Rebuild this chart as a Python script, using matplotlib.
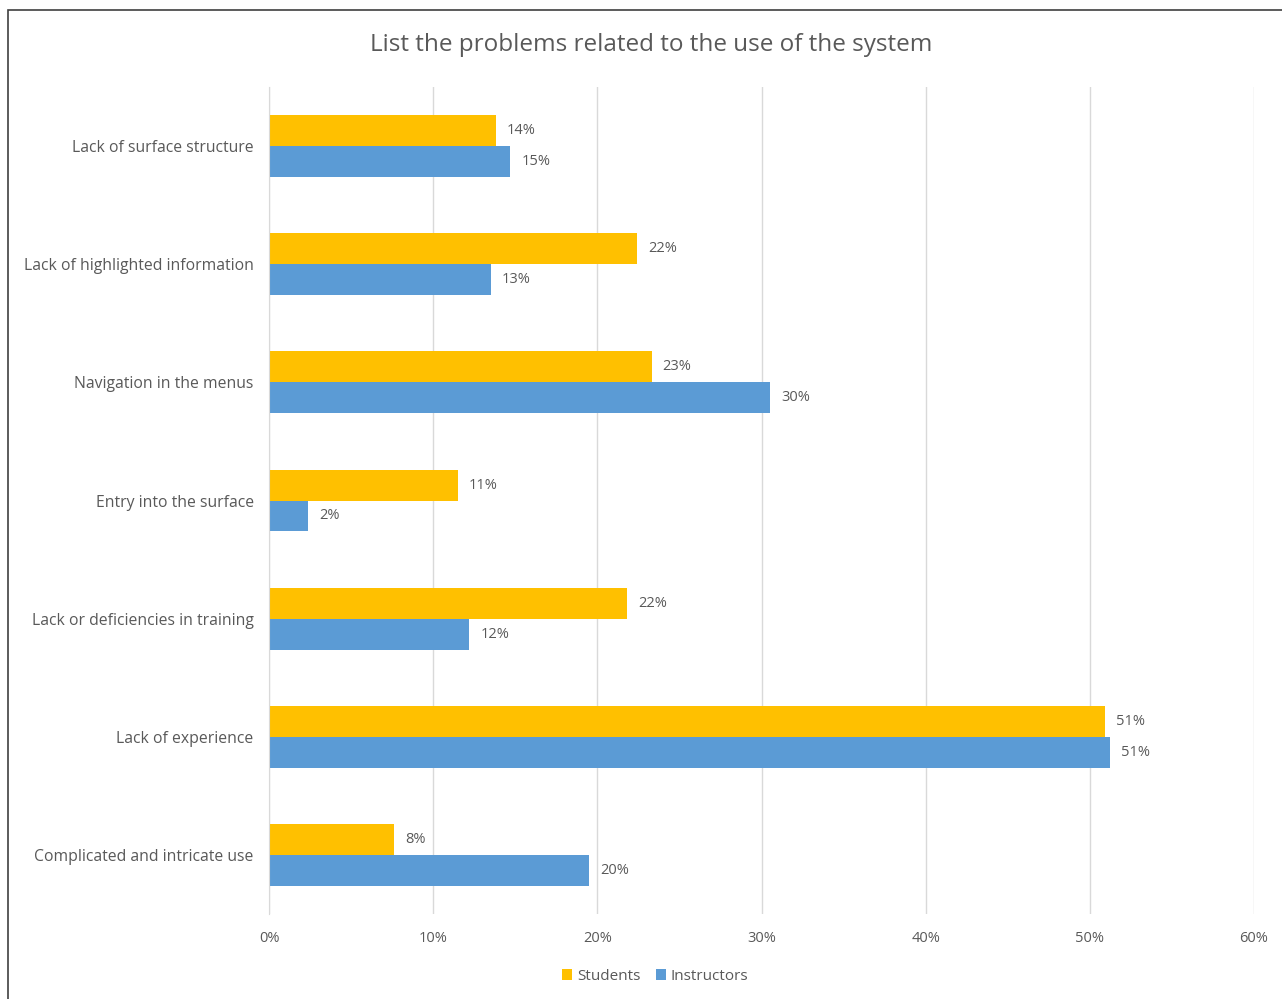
import matplotlib.pyplot as plt
import numpy as np
from matplotlib.patches import Rectangle

plt.rcParams['font.family'] = ['Open Sans', 'DejaVu Sans']

categories = [
    "Lack of surface structure",
    "Lack of highlighted information",
    "Navigation in the menus",
    "Entry into the surface",
    "Lack or deficiencies in training",
    "Lack of experience",
    "Complicated and intricate use",
]
students = [13.8, 22.4, 23.3, 11.5, 21.8, 50.9, 7.6]
instructors = [14.7, 13.5, 30.5, 2.4, 12.2, 51.2, 19.5]
students_labels = ["14%", "22%", "23%", "11%", "22%", "51%", "8%"]
instructors_labels = ["15%", "13%", "30%", "2%", "12%", "51%", "20%"]
xticks = [0, 10, 20, 30, 40, 50, 60]

YELLOW = "#FFC000"
BLUE = "#5B9BD5"
TEXT = "#595959"

fig = plt.figure(figsize=(12.82, 9.99), dpi=100)
ax = fig.add_axes([269 / 1282, 85 / 999, (1254 - 269) / 1282, (914 - 87) / 999])

# outer chart border (left/top visible in the reference, the rest is cropped off)
fig.patches.append(Rectangle((8 / 1282, -0.05), 1.2, (999 - 10) / 999 + 0.05,
                             transform=fig.transFigure, fill=False,
                             edgecolor="#404040", linewidth=1.2))

y = np.arange(len(categories))
h = 0.262
bs = ax.barh(y - h / 2, students, height=h, color=YELLOW, label="Students", zorder=2)
bi = ax.barh(y + h / 2, instructors, height=h, color=BLUE, label="Instructors", zorder=2)

for bars, labels in ((bs, students_labels), (bi, instructors_labels)):
    for bar, lab in zip(bars, labels):
        ax.annotate(lab, xy=(bar.get_width(), bar.get_y() + bar.get_height() / 2),
                    xytext=(8, 0), textcoords="offset points",
                    ha="left", va="center", fontsize=10.5, color=TEXT)

ax.set_xlim(0, 60)
ax.set_ylim(len(categories) - 0.5, -0.5)
ax.set_xticks(xticks)
ax.set_xticklabels([f"{t}%" for t in xticks])
ax.set_yticks(y)
ax.set_yticklabels(categories, va="center_baseline")
ax.tick_params(axis="x", length=0, pad=12, labelsize=10.5, labelcolor=TEXT)
ax.tick_params(axis="y", length=0, pad=11, labelsize=11.3, labelcolor=TEXT)
ax.grid(axis="x", color="#D9D9D9", linewidth=1, zorder=0)
for s in ("top", "right", "bottom"):
    ax.spines[s].set_visible(False)
ax.spines["left"].set_color("#D9D9D9")

fig.text(651 / 1282, 1 - 45 / 999, "List the problems related to the use of the system",
         ha="center", va="center", fontsize=17.5, color=TEXT)

fig.legend(handles=[bs, bi], labels=["Students", "Instructors"],
           loc="center", bbox_to_anchor=(655 / 1282, 1 - 976 / 999), ncol=2,
           frameon=False, fontsize=11, labelcolor=TEXT,
           handlelength=0.7, handleheight=0.7, handletextpad=0.3, columnspacing=1.0)

fig.savefig("out.png", dpi=100)
